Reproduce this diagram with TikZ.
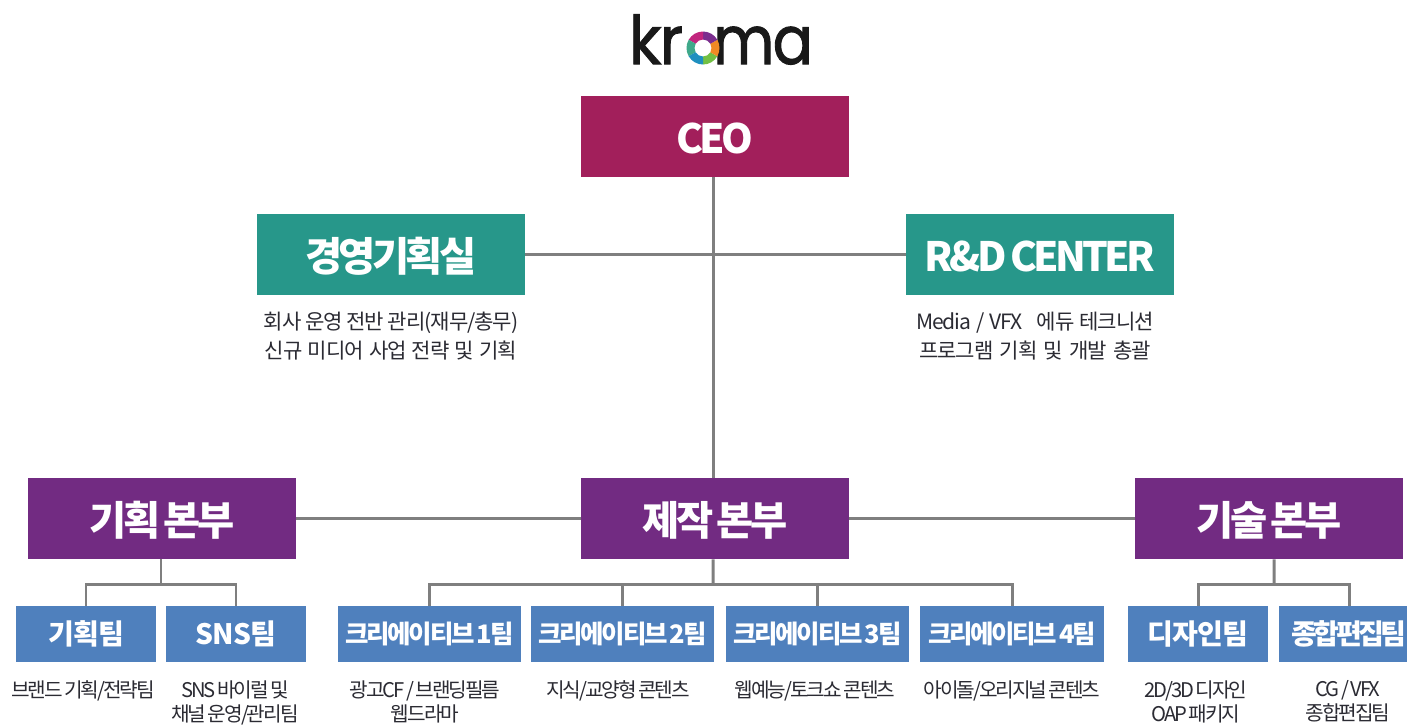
\documentclass[tikz,border=0pt]{standalone}
\usepackage{fontspec}
\usepackage{tikz}
\usetikzlibrary{positioning}
\newfontfamily\krfont{Noto Sans CJK KR}
\newfontfamily\krtight[WordSpace=0.6]{Noto Sans CJK KR}
\newfontfamily\logofont[FakeBold=1.5, LetterSpace=-3]{Poppins}
\newcommand\widewords[1]{\spaceskip=#1\fontdimen2\font\relax}
\definecolor{ceored}{HTML}{A21F5B}
\definecolor{teamgreen}{HTML}{27978A}
\definecolor{deptpurple}{HTML}{722B82}
\definecolor{teamblue}{HTML}{4F80BD}
\definecolor{linegray}{HTML}{7F7F7F}
\definecolor{desctext}{HTML}{2B2B33}
\definecolor{ringa}{HTML}{72C044}
\definecolor{ringb}{HTML}{F08A24}
\definecolor{ringc}{HTML}{7B2D8E}
\definecolor{ringd}{HTML}{C2257E}
\definecolor{ringe}{HTML}{3FA98A}
\definecolor{ringf}{HTML}{1F8FBF}
\tikzstyle{big} = [rectangle, minimum width=5.36cm, minimum height=1.62cm, inner sep=0pt, text height=22pt, text depth=3pt, text=white, font=\krtight\addfontfeatures{LetterSpace=-9}\fontsize{23}{28}\bfseries\selectfont]
\tikzstyle{team} = [rectangle, minimum height=1.12cm, inner sep=0pt, fill=teamblue, text=white, font=\krfont\addfontfeatures{LetterSpace=-3}\fontsize{16}{18}\bfseries\selectfont]
\tikzstyle{creteam} = [team, minimum width=3.66cm, font=\krtight\addfontfeatures{LetterSpace=-9}\fontsize{14.5}{18}\bfseries\selectfont]
\tikzstyle{desc} = [align=center, inner sep=0pt, text=desctext, font=\krfont\addfontfeatures{LetterSpace=-5}\fontsize{12}{16.5}\selectfont]
\tikzstyle{subdesc} = [desc, anchor=north, font=\krtight\addfontfeatures{LetterSpace=-10}\fontsize{11.5}{13.8}\selectfont]
\tikzstyle{link} = [line width=1.7pt, draw=linegray]
\tikzstyle{logotxt} = [inner sep=0pt, anchor=base, yscale=1.06, transform shape, text=black!90, font=\logofont\fontsize{36}{40}\selectfont]
\begin{document}
\begin{tikzpicture}[x=0.02cm, y=-0.02cm]
		\useasboundingbox (0,0) rectangle (1407,724);
		% logo
		\node (logok) [logotxt] at (656,64) {kr};
		\node (logom) [logotxt, xscale=0.94] at (763,64) {ma};
		\foreach \ang/\col in {90/ringa, 30/ringb, -30/ringc, -90/ringd, -150/ringe, 150/ringf} {
			\fill [\col] (703,48) ++(\ang:16.5) arc[start angle=\ang, end angle=\ang-60, radius=16.5] -- ++(\ang-60:-8) arc[start angle=\ang-60, end angle=\ang, radius=8.5] -- cycle;
		}
		% top
		\node (ceo) [big, fill=ceored] at (715,136.5) {CEO};
		\node (office) [big, fill=teamgreen] at (391,254.5) {경영기획실};
		\node (center) [big, fill=teamgreen] at (1040,254.5) {R\&D CENTER};
		\node (officedesc) [desc] at (391,336) {회사 운영 전반 관리(재무/총무)\\\widewords{1.4}신규 미디어 사업 전략 및 기획};
		\node (centerdesc) [desc] at (1035,336) {\widewords{1.3}Media / VFX \ \ 에듀 테크니션\\\widewords{1.7}프로그램 기획 및 개발 총괄};
		% departments
		\node (plan) [big, fill=deptpurple] at (162,518.5) {기획 본부};
		\node (make) [big, fill=deptpurple] at (715,518.5) {제작 본부};
		\node (tech) [big, fill=deptpurple] at (1269,518.5) {기술 본부};
		% teams
		\node (planteam) [team, minimum width=2.8cm] at (86,634) {기획팀};
		\node (snsteam) [team, minimum width=2.8cm] at (236,634) {SNS팀};
		\node (cre1) [creteam] at (429.5,634) {크리에이티브 1팀};
		\node (cre2) [creteam] at (622.5,634) {크리에이티브 2팀};
		\node (cre3) [creteam] at (817.5,634) {크리에이티브 3팀};
		\node (cre4) [creteam, minimum width=3.68cm] at (1012,634) {크리에이티브 4팀};
		\node (design) [team, minimum width=2.8cm] at (1198,634) {디자인팀};
		\node (edit) [team, minimum width=2.8cm, font=\krfont\addfontfeatures{LetterSpace=-13}\fontsize{16}{18}\bfseries\selectfont] at (1349,634) {종합편집팀};
		% descriptions
		\node (d1) [subdesc] at (83,680) {브랜드 기획/전략팀};
		\node (d2) [subdesc] at (235,680) {SNS 바이럴 및\\채널 운영/관리팀};
		\node (d3) [subdesc] at (425,680) {광고CF / 브랜딩필름\\웹드라마};
		\node (d4) [subdesc] at (618,680) {지식/교양형 콘텐츠};
		\node (d5) [subdesc] at (815,680) {웹예능/토크쇼 콘텐츠};
		\node (d6) [subdesc] at (1012,680) {아이돌/오리지널 콘텐츠};
		\node (d7) [subdesc] at (1196,680) {2D/3D 디자인\\OAP 패키지};
		\node (d8) [subdesc] at (1348,680) {CG / VFX\\종합편집팀};
		% lines
		\draw [link] ([xshift=-0.04cm]ceo.south) -- ([xshift=-0.04cm]make.north);
		\draw [link] (office) -- (center);
		\draw [link] (plan) -- (make);
		\draw [link] (make) -- (tech);
		\coordinate (planbus) at (161,584);
		\coordinate (makebus) at (713,584);
		\coordinate (techbus) at (1274,584);
		\draw [link] ([xshift=-0.02cm]plan.south) -- (planbus);
		\draw [link] (planteam.north) |- (planbus) -| (snsteam.north);
		\draw [link] ([xshift=-0.04cm]make.south) -- (makebus);
		\draw [link] (cre1.north) |- (makebus) -| (cre4.north);
		\draw [link] (makebus -| cre2.north) -- (cre2.north);
		\draw [link] (makebus -| cre3.north) -- (cre3.north);
		\draw [link] ([xshift=0.1cm]tech.south) -- (techbus);
		\draw [link] (design.north) |- (techbus) -| (edit.north);
\end{tikzpicture}
\end{document}
